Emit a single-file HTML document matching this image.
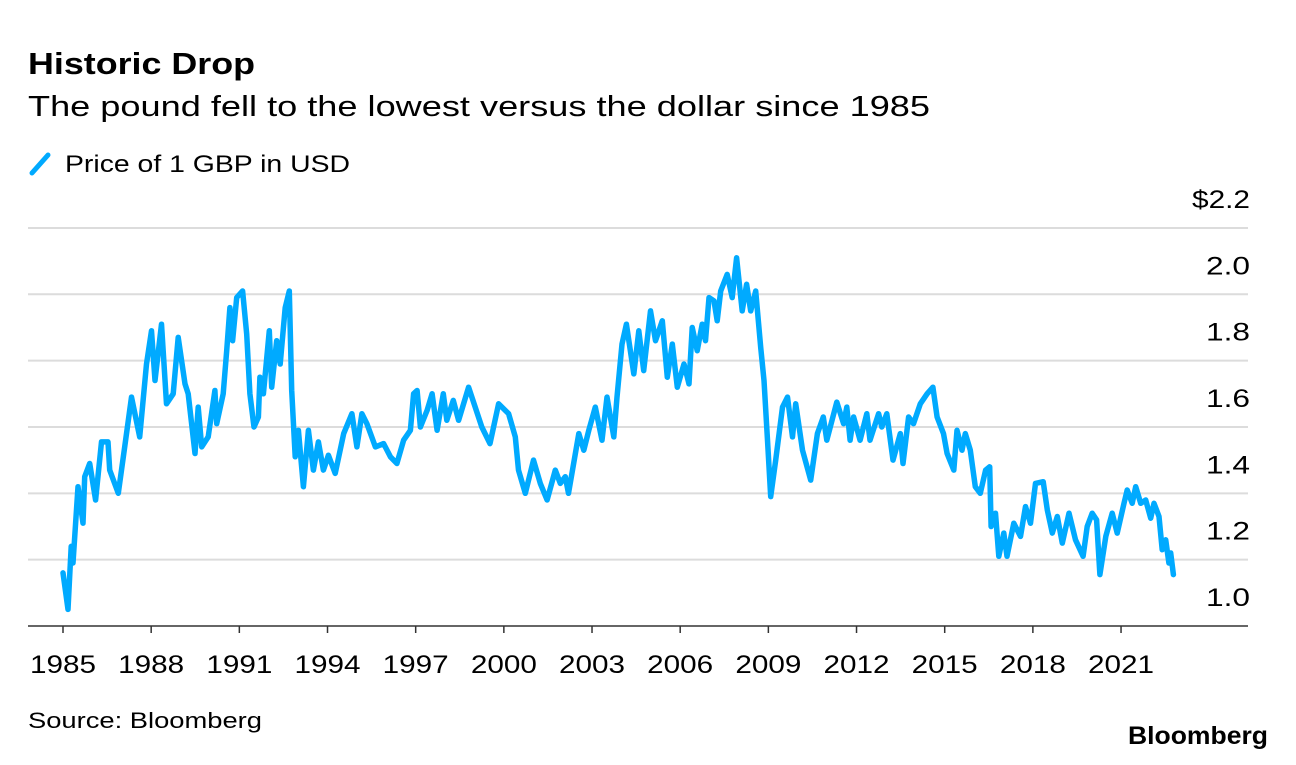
<!DOCTYPE html>
<html><head><meta charset="utf-8">
<style>
html,body{margin:0;padding:0;background:#fff;}
body{width:1296px;height:760px;overflow:hidden;font-family:"Liberation Sans",Arial,sans-serif;color:#000;}
svg text{font-family:"Liberation Sans",Arial,sans-serif;}
</style></head>
<body>
<svg id="chart" width="1296" height="760" viewBox="0 0 1296 760" xmlns="http://www.w3.org/2000/svg">
  <text x="28" y="74" font-size="31" font-weight="bold" textLength="227" lengthAdjust="spacingAndGlyphs">Historic Drop</text>
  <text x="28" y="116" font-size="29" textLength="902" lengthAdjust="spacingAndGlyphs">The pound fell to the lowest versus the dollar since 1985</text>
  <g>
    <line x1="32" y1="173" x2="48" y2="155" stroke="#00aaff" stroke-width="5" stroke-linecap="round"/>
    <text x="65" y="172" font-size="24" textLength="285" lengthAdjust="spacingAndGlyphs">Price of 1 GBP in USD</text>
  </g>
  <g id="grid"></g>
  <g id="yticks"></g>
  <g id="xticks"></g>
  <path id="series" fill="none" stroke="#00aaff" stroke-width="5.5" stroke-linejoin="round" stroke-linecap="round"/>
  <text x="28" y="728" font-size="22" textLength="234" lengthAdjust="spacingAndGlyphs">Source: Bloomberg</text>
  <text x="1128" y="744" font-size="25" font-weight="bold" textLength="140" lengthAdjust="spacingAndGlyphs">Bloomberg</text>
</svg>
<script>
const dates = [1985.00,1985.17,1985.28,1985.34,1985.51,1985.68,1985.74,1985.91,1986.11,1986.31,1986.53,1986.59,1986.88,1987.10,1987.33,1987.61,1987.84,1988.01,1988.13,1988.35,1988.52,1988.75,1988.92,1989.15,1989.26,1989.49,1989.60,1989.72,1989.94,1990.17,1990.23,1990.45,1990.57,1990.68,1990.77,1990.91,1991.11,1991.25,1991.36,1991.50,1991.65,1991.70,1991.82,1992.02,1992.10,1992.27,1992.39,1992.56,1992.70,1992.78,1992.90,1993.01,1993.18,1993.35,1993.52,1993.69,1993.86,1994.03,1994.26,1994.55,1994.83,1995.00,1995.17,1995.34,1995.63,1995.91,1996.14,1996.36,1996.59,1996.82,1996.93,1997.05,1997.16,1997.39,1997.56,1997.73,1997.94,1998.06,1998.28,1998.46,1998.80,1999.25,1999.53,1999.82,2000.16,2000.39,2000.50,2000.73,2001.01,2001.24,2001.47,2001.75,2001.92,2002.09,2002.20,2002.55,2002.72,2002.89,2003.11,2003.34,2003.51,2003.74,2003.85,2004.02,2004.17,2004.42,2004.59,2004.76,2004.99,2005.16,2005.39,2005.56,2005.73,2005.90,2006.13,2006.30,2006.41,2006.58,2006.75,2006.86,2006.98,2007.15,2007.26,2007.38,2007.60,2007.77,2007.92,2008.11,2008.26,2008.40,2008.57,2008.74,2008.85,2008.97,2009.08,2009.25,2009.48,2009.65,2009.82,2009.93,2010.16,2010.44,2010.67,2010.87,2010.99,2011.33,2011.56,2011.67,2011.78,2011.90,2012.12,2012.35,2012.46,2012.75,2012.86,2013.03,2013.24,2013.49,2013.58,2013.77,2013.94,2014.17,2014.40,2014.60,2014.74,2014.96,2015.08,2015.31,2015.42,2015.59,2015.70,2015.87,2016.04,2016.21,2016.39,2016.53,2016.58,2016.73,2016.84,2017.01,2017.12,2017.35,2017.58,2017.75,2017.92,2018.09,2018.35,2018.49,2018.66,2018.83,2019.00,2019.23,2019.45,2019.71,2019.85,2020.02,2020.17,2020.28,2020.48,2020.70,2020.87,2021.10,2021.21,2021.38,2021.50,2021.67,2021.84,2022.01,2022.12,2022.29,2022.40,2022.52,2022.63,2022.69,2022.78];
const rates = [1.16,1.05,1.24,1.19,1.42,1.31,1.45,1.49,1.38,1.555,1.555,1.47,1.40,1.54,1.69,1.57,1.79,1.89,1.74,1.91,1.67,1.70,1.87,1.73,1.70,1.52,1.66,1.54,1.57,1.71,1.61,1.70,1.83,1.96,1.86,1.99,2.01,1.88,1.70,1.60,1.63,1.75,1.70,1.89,1.72,1.86,1.79,1.96,2.01,1.71,1.51,1.59,1.42,1.59,1.47,1.555,1.47,1.515,1.46,1.58,1.64,1.54,1.64,1.61,1.54,1.55,1.51,1.49,1.56,1.59,1.70,1.71,1.60,1.65,1.70,1.59,1.70,1.62,1.68,1.62,1.72,1.60,1.55,1.67,1.64,1.57,1.47,1.40,1.50,1.43,1.38,1.47,1.43,1.45,1.40,1.58,1.53,1.59,1.66,1.56,1.69,1.57,1.69,1.85,1.91,1.76,1.89,1.77,1.95,1.86,1.92,1.75,1.85,1.72,1.79,1.73,1.90,1.83,1.91,1.86,1.99,1.98,1.92,2.01,2.06,1.99,2.11,1.95,2.03,1.95,2.01,1.84,1.74,1.56,1.39,1.50,1.66,1.69,1.57,1.67,1.53,1.44,1.58,1.63,1.56,1.675,1.61,1.66,1.56,1.63,1.56,1.64,1.56,1.64,1.60,1.64,1.50,1.58,1.49,1.63,1.61,1.67,1.70,1.72,1.63,1.58,1.52,1.47,1.59,1.53,1.58,1.53,1.42,1.40,1.47,1.48,1.30,1.34,1.21,1.28,1.21,1.31,1.27,1.36,1.31,1.43,1.435,1.35,1.28,1.33,1.25,1.34,1.26,1.21,1.30,1.34,1.32,1.155,1.27,1.34,1.28,1.37,1.41,1.37,1.42,1.37,1.38,1.325,1.37,1.33,1.23,1.26,1.19,1.22,1.155];
const yTickValues = [1.0,1.2,1.4,1.6,1.8,2.0,2.2];
const yTickLabels = ["1.0","1.2","1.4","1.6","1.8","2.0","$2.2"];
const xTickYears = [1985,1988,1991,1994,1997,2000,2003,2006,2009,2012,2015,2018,2021];

const NS="http://www.w3.org/2000/svg";
function xScale(yr){return 63+(yr-1985)*29.39;}
function yScale(v){return 626-(v-1.0)*331.7;}

const grid=document.getElementById('grid');
const yt=document.getElementById('yticks');
yTickValues.forEach((v,i)=>{
  const y=yScale(v);
  const ln=document.createElementNS(NS,'line');
  
  
  ln.setAttribute('x1',28);ln.setAttribute('x2',1248);
  ln.setAttribute('y1',y);ln.setAttribute('y2',y);
  ln.setAttribute('stroke',i===0?'#333':'#dcdcdc');
  ln.setAttribute('stroke-width',i===0?1.5:2);
  grid.appendChild(ln);
  const t=document.createElementNS(NS,'text');
  
  
  t.setAttribute('x',1250);t.setAttribute('y',y-20);
  t.setAttribute('text-anchor','end');t.setAttribute('font-size','25');
  t.setAttribute('textLength',yTickLabels[i].length>3?58:44);
  t.setAttribute('lengthAdjust','spacingAndGlyphs');
  t.textContent=yTickLabels[i];
  yt.appendChild(t);
});
const xt=document.getElementById('xticks');
xTickYears.forEach(yr=>{
  const x=xScale(yr);
  const tk=document.createElementNS(NS,'line');
  
  
  tk.setAttribute('x1',x);tk.setAttribute('x2',x);
  tk.setAttribute('y1',626);tk.setAttribute('y2',633);
  tk.setAttribute('stroke','#333');tk.setAttribute('stroke-width',1.5);
  xt.appendChild(tk);
  const t=document.createElementNS(NS,'text');
  
  
  t.setAttribute('x',x);t.setAttribute('y',673);
  t.setAttribute('text-anchor','middle');t.setAttribute('font-size','25');
  t.setAttribute('textLength',66);
  t.setAttribute('lengthAdjust','spacingAndGlyphs');
  t.textContent=String(yr);
  xt.appendChild(t);
});
let d='';
dates.forEach((yr,i)=>{d+=(i?'L':'M')+xScale(yr).toFixed(1)+','+yScale(rates[i]).toFixed(1);});
document.getElementById('series').setAttribute('d',d);
</script>
</body></html>
